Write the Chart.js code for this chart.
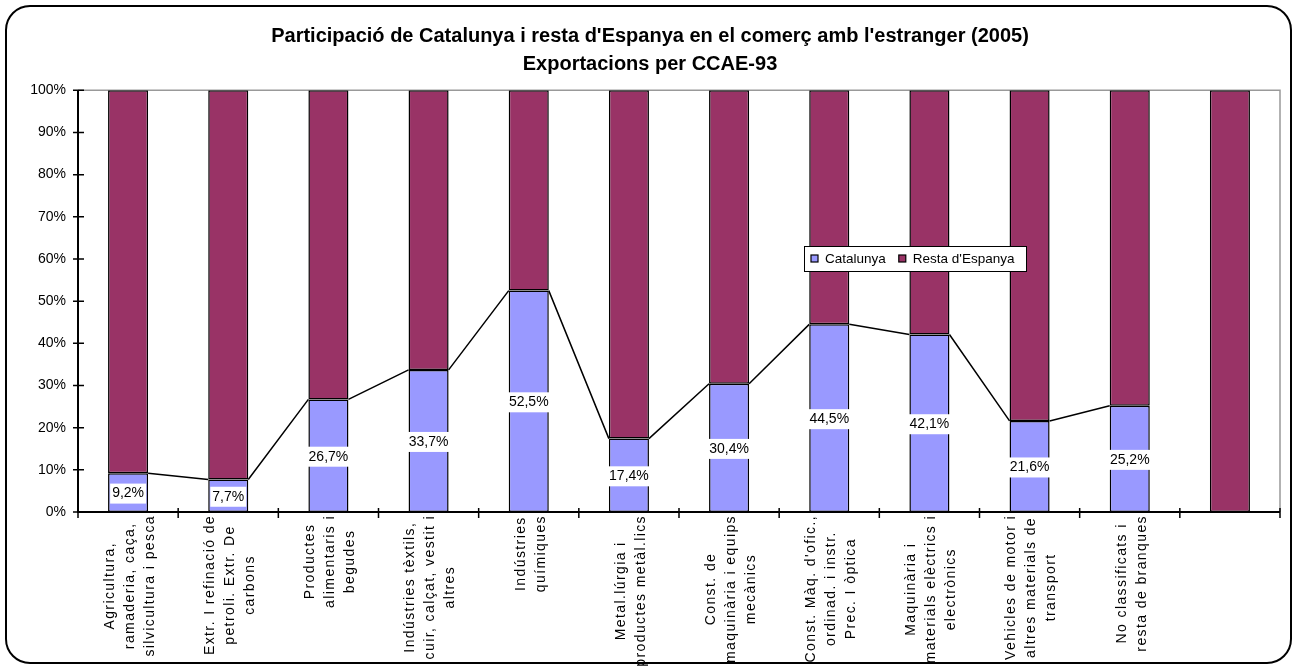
<!DOCTYPE html>
<html>
<head>
<meta charset="utf-8">
<script src="https://cdn.jsdelivr.net/npm/chart.js@4.4.1/dist/chart.umd.min.js"></script>
<style>
  html, body { margin: 0; padding: 0; background: #fff; }
  #wrap { width: 1297px; height: 669px; }
</style>
</head>
<body>
<div id="wrap"><canvas id="grafic" width="1297" height="669"></canvas></div>
<script>
// Participació de Catalunya en les exportacions per CCAE-93 (2005)
const categories = [
  ["Agricultura,", "ramaderia, caça,", "silvicultura i pesca"],
  ["Extr. I refinació de", "petroli. Extr. De", "carbons"],
  ["Productes", "alimentaris i", "begudes"],
  ["Indústries tèxtils,", "cuir, calçat, vestit i", "altres"],
  ["Indústries", "químiques"],
  ["Metal.lúrgia i", "productes metàl.lics"],
  ["Const. de", "maquinària i equips", "mecànics"],
  ["Const. Màq. d'ofic.,", "ordinad. i instr.", "Prec. I òptica"],
  ["Maquinària i", "materials elèctrics i", "electrònics"],
  ["Vehicles de motor i", "altres materials de", "transport"],
  ["No classificats i", "resta de branques"],
  [""]
];
const catalunya    = [9.2, 7.7, 26.7, 33.7, 52.5, 17.4, 30.4, 44.5, 42.1, 21.6, 25.2, null];
const restaEspanya = [90.8, 92.3, 73.3, 66.3, 47.5, 82.6, 69.6, 55.5, 57.9, 78.4, 74.8, 100];
const titol = [
  "Participació de Catalunya i resta d'Espanya en el comerç amb l'estranger (2005)",
  "Exportacions per CCAE-93"
];

const FONT = "'Liberation Sans', Arial, sans-serif";
const COLOR_CAT = "#9999FF";
const COLOR_RESTA = "#993366";

function percent(v) {
  return v.toFixed(1).replace(".", ",") + "%";
}

// marc arrodonit i fons blanc
const marc = {
  id: "marc",
  beforeDraw(chart) {
    const ctx = chart.ctx;
    ctx.save();
    ctx.fillStyle = "#fff";
    ctx.fillRect(0, 0, chart.width, chart.height);
    ctx.beginPath();
    ctx.roundRect(6, 6, chart.width - 12, chart.height - 12, 24);
    ctx.lineWidth = 2;
    ctx.strokeStyle = "#000";
    ctx.stroke();
    ctx.restore();
  }
};

// vora de l'àrea de traçat (gris) sota les barres
const voraGris = {
  id: "voraGris",
  beforeDatasetsDraw(chart) {
    const { ctx, chartArea: a } = chart;
    ctx.save();
    ctx.strokeStyle = "#999";
    ctx.lineWidth = 1.5;
    ctx.beginPath();
    ctx.moveTo(a.left, a.top);
    ctx.lineTo(a.right, a.top);
    ctx.lineTo(a.right, a.bottom);
    ctx.stroke();
    ctx.restore();
  }
};

// eixos negres amb marques creuades
const eixos = {
  id: "eixos",
  afterDatasetsDraw(chart) {
    const { ctx, chartArea: a, scales } = chart;
    ctx.save();
    ctx.strokeStyle = "#000";
    ctx.lineWidth = 2;
    ctx.beginPath();
    ctx.moveTo(a.left, a.top);
    ctx.lineTo(a.left, a.bottom);
    ctx.lineTo(a.right, a.bottom);
    ctx.stroke();
    ctx.lineWidth = 1.5;
    ctx.beginPath();
    scales.y.ticks.forEach(t => {
      const y = scales.y.getPixelForValue(t.value);
      ctx.moveTo(a.left - 5, y);
      ctx.lineTo(a.left + 6, y);
    });
    for (let i = 0; i <= categories.length; i++) {
      const x = scales.x.getPixelForValue(i - 0.5);
      ctx.moveTo(x, a.bottom - 4);
      ctx.lineTo(x, a.bottom + 6);
    }
    ctx.stroke();
    ctx.restore();
  }
};

// línies de sèrie entre barres i etiquetes de dades
const liniesEtiquetes = {
  id: "liniesEtiquetes",
  afterDatasetsDraw(chart) {
    const ctx = chart.ctx;
    const meta = chart.getDatasetMeta(0);
    ctx.save();
    ctx.strokeStyle = "#000";
    ctx.lineWidth = 1.5;
    ctx.beginPath();
    for (let i = 0; i < catalunya.length - 1; i++) {
      if (catalunya[i] == null || catalunya[i + 1] == null) continue;
      const b1 = meta.data[i], b2 = meta.data[i + 1];
      ctx.moveTo(b1.x + b1.width / 2, b1.y);
      ctx.lineTo(b2.x - b2.width / 2, b2.y);
    }
    ctx.stroke();

    ctx.font = "14px " + FONT;
    ctx.textAlign = "center";
    ctx.textBaseline = "middle";
    catalunya.forEach((v, i) => {
      if (v == null) return;
      const b = meta.data[i];
      const txt = percent(v);
      const w = ctx.measureText(txt).width + 4;
      const cy = (b.y + b.base) / 2 + 1;
      ctx.fillStyle = "#fff";
      ctx.fillRect(b.x - w / 2, cy - 10, w, 20);
      ctx.fillStyle = "#000";
      ctx.fillText(txt, b.x, cy);
    });
    ctx.restore();
  }
};

// etiquetes de categoria girades, línies centrades entre elles
const etiquetesX = {
  id: "etiquetesX",
  afterDraw(chart) {
    const { ctx, chartArea: a, scales } = chart;
    ctx.save();
    ctx.font = "14px " + FONT;
    ctx.letterSpacing = "1.4px";
    ctx.fillStyle = "#000";
    ctx.textAlign = "center";
    ctx.textBaseline = "middle";
    const lh = 20;
    categories.forEach((lines, i) => {
      const x = scales.x.getPixelForTick(i);
      const maxW = Math.max(...lines.map(l => ctx.measureText(l).width));
      ctx.save();
      ctx.translate(x + 2, a.bottom + 3);
      ctx.rotate(-Math.PI / 2);
      lines.forEach((l, j) => {
        ctx.fillText(l, -maxW / 2, (j - (lines.length - 1) / 2) * lh);
      });
      ctx.restore();
    });
    ctx.restore();
  }
};

// llegenda dins l'àrea de traçat
const llegenda = {
  id: "llegenda",
  afterDraw(chart) {
    const ctx = chart.ctx;
    const x0 = 804, y0 = 246, w = 222, h = 25;
    ctx.save();
    ctx.fillStyle = "#fff";
    ctx.fillRect(x0, y0, w, h);
    ctx.strokeStyle = "#000";
    ctx.lineWidth = 1;
    ctx.strokeRect(x0 + 0.5, y0 + 0.5, w, h);
    ctx.font = "13.5px " + FONT;
    ctx.textBaseline = "middle";
    const cy = y0 + h / 2 + 0.5;
    let x = x0 + 7;
    chart.data.datasets.forEach(ds => {
      ctx.fillStyle = ds.backgroundColor;
      ctx.fillRect(x, cy - 4, 7, 7);
      ctx.strokeStyle = "#000";
      ctx.lineWidth = 1.2;
      ctx.strokeRect(x, cy - 4, 7, 7);
      ctx.fillStyle = "#000";
      ctx.fillText(ds.label, x + 14, cy);
      x += 14 + ctx.measureText(ds.label).width + 13;
    });
    ctx.restore();
  }
};

const ctx = document.getElementById("grafic").getContext("2d");
new Chart(ctx, {
  type: "bar",
  data: {
    labels: categories,
    datasets: [
      {
        label: "Catalunya",
        data: catalunya,
        backgroundColor: COLOR_CAT,
        borderColor: "#000",
        borderWidth: 1.5,
        borderSkipped: false,
        barPercentage: 1,
        categoryPercentage: 0.4
      },
      {
        label: "Resta d'Espanya",
        data: restaEspanya,
        backgroundColor: COLOR_RESTA,
        borderColor: "#000",
        borderWidth: 1.5,
        borderSkipped: false,
        barPercentage: 1,
        categoryPercentage: 0.4
      }
    ]
  },
  options: {
    responsive: false,
    animation: false,
    layout: { padding: { left: 20, right: 17, top: 8, bottom: 8 } },
    plugins: {
      legend: { display: false },
      tooltip: { enabled: false },
      title: {
        display: true,
        text: titol,
        color: "#000",
        font: { family: FONT, size: 20, weight: "bold", lineHeight: 1.42 },
        padding: { top: 14, bottom: 11.5 }
      }
    },
    scales: {
      x: {
        stacked: true,
        grid: { display: false },
        border: { display: false },
        ticks: { display: false },
        afterFit(scale) { scale.height = 149; }
      },
      y: {
        stacked: true,
        min: 0,
        max: 100,
        grid: { display: false, drawTicks: false },
        border: { display: false },
        ticks: {
          stepSize: 10,
          color: "#000",
          padding: 12,
          font: { family: FONT, size: 14 },
          callback: v => v + "%"
        },
        afterFit(scale) { scale.width = 58; }
      }
    }
  },
  plugins: [marc, voraGris, liniesEtiquetes, eixos, etiquetesX, llegenda]
});
</script>
</body>
</html>
